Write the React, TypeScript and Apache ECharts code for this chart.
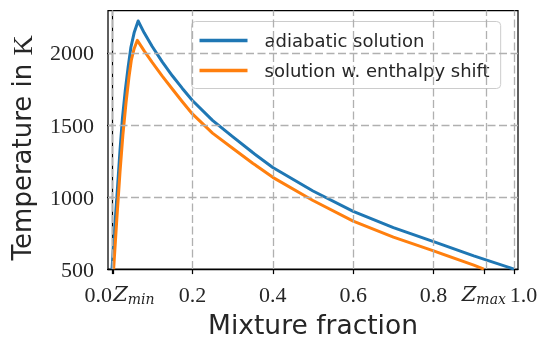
import React, { useEffect, useRef } from "react";
import * as echarts from "echarts";

// ---- data ----
const adiabaticX = [0.0, 0.007, 0.014, 0.02, 0.026, 0.033, 0.04, 0.047, 0.055, 0.065, 0.08, 0.1, 0.125, 0.15, 0.175, 0.2, 0.25, 0.3, 0.35, 0.4, 0.5, 0.6, 0.7, 0.8, 0.9, 1.0];
const adiabaticT = [500, 800, 1080, 1330, 1550, 1740, 1900, 2040, 2140, 2222, 2140, 2045, 1938, 1842, 1754, 1670, 1532, 1419, 1309, 1205, 1042, 901, 788, 691, 592, 500];
const shiftX = [0.004, 0.012, 0.02, 0.027, 0.035, 0.042, 0.048, 0.055, 0.063, 0.08, 0.1, 0.125, 0.15, 0.175, 0.2, 0.25, 0.3, 0.35, 0.4, 0.5, 0.6, 0.7, 0.8, 0.9, 0.925];
const shiftT = [500, 850, 1180, 1430, 1660, 1830, 1950, 2030, 2088, 2015, 1935, 1840, 1750, 1662, 1577, 1444, 1339, 1235, 1137, 976, 833, 722, 626, 528, 500];

const seriesNames = ["adiabatic solution", "solution w. enthalpy shift"];
const xTicks = [0, 0.003, 0.2, 0.4, 0.6, 0.8, 0.925, 1.0];
const xTickLabels = ["0.0", "{z|Z}{s|min}", "0.2", "0.4", "0.6", "0.8", "{z|Z}{s|max}", "{r|1.0}"];
const yTicks = [500, 1000, 1500, 2000];
const yTickLabels = ["500", "1000", "1500", "2000"];

const BLUE = "#1f77b4";
const ORANGE = "#ff7f0e";
const TXT = "#262626";
const SERIF = "Liberation Serif";
const X_MIN = -0.01;
const X_MAX = 1.01;

export default function App() {
  const ref = useRef<HTMLDivElement>(null);
  useEffect(() => {
    if (!ref.current) return;
    const chart = echarts.init(ref.current, undefined, { renderer: "svg" });
    const gridLine = { color: "#b0b0b0", width: 1.3, type: [8, 3.5] as any };
    const numStyle = { fontFamily: SERIF, fontSize: 22, color: TXT, lineHeight: 24 };
    const rich = {
      n: numStyle,
      r: { ...numStyle, padding: [0, 0, 0, 19] },
      z: { fontFamily: "DejaVu Serif", fontStyle: "italic", fontSize: 21, color: TXT, lineHeight: 24 },
      s: { fontFamily: "DejaVu Serif", fontStyle: "italic", fontSize: 14, color: TXT, lineHeight: 14, verticalAlign: "bottom" },
    };
    const fmt = (v: number) => {
      const i = xTicks.findIndex((t) => Math.abs(t - v) < 1e-9);
      return i >= 0 ? xTickLabels[i] : "";
    };
    // label groups by alignment (indices into xTicks)
    const groups: { idx: number[]; align: string }[] = [
      { idx: [2, 3, 4, 5, 6], align: "center" },
      { idx: [0], align: "right" },
      { idx: [1], align: "left" },
      { idx: [7], align: "center" },
    ];
    const xAxes = groups.map((g, k) => ({
      type: "value",
      gridIndex: 0,
      position: "bottom",
      offset: 0,
      min: X_MIN,
      max: X_MAX,
      ...(k === 0
        ? {
            name: "Mixture fraction",
            nameLocation: "middle",
            nameGap: 35,
            nameTextStyle: { fontFamily: "DejaVu Sans", fontSize: 26.5, color: TXT },
          }
        : {}),
      axisLine: { show: k === 0, onZero: false, lineStyle: { color: "#000", width: 1.25 } },
      axisTick: { show: k === 0, inside: false, length: 5, customValues: xTicks, lineStyle: { color: "#000", width: 1.25 } },
      axisLabel: {
        customValues: g.idx.map((i) => xTicks[i]),
        margin: 13,
        align: g.align,
        hideOverlap: false,
        showMinLabel: true,
        showMaxLabel: true,
        fontFamily: SERIF,
        fontSize: 22,
        color: TXT,
        lineHeight: 24,
        formatter: fmt,
        rich,
      },
      splitLine: { show: false },
    }));

    chart.setOption({
      animation: false,
      grid: { left: 106, right: 25, top: 10.5, bottom: 67, show: true, borderColor: "#000", borderWidth: 1.25, backgroundColor: "transparent" },
      legend: {
        orient: "vertical",
        left: 191.5,
        top: 21.5,
        padding: [10, 11, 9, 8],
        itemGap: 12,
        itemWidth: 48,
        itemHeight: 3.5,
        icon: "rect",
        backgroundColor: "rgba(255,255,255,0.8)",
        borderColor: "#cccccc",
        borderWidth: 1,
        borderRadius: 4,
        formatter: "{t|{name}}",
        textStyle: {
          rich: { t: { fontFamily: "DejaVu Sans", fontSize: 18, color: TXT, lineHeight: 18, padding: [0, 0, 0, 12] } },
        },
        data: seriesNames,
      },
      xAxis: xAxes,
      yAxis: {
        type: "value",
        min: 500,
        max: 2295,
        name: "{t|Temperature in }{k|K}",
        nameLocation: "middle",
        nameRotate: 90,
        nameGap: 72,
        nameTextStyle: {
          rich: {
            t: { fontFamily: "DejaVu Sans", fontSize: 26, color: TXT },
            k: { fontFamily: SERIF, fontSize: 28, color: TXT, padding: [0, 16, 0, 0] },
          },
        },
        axisLine: { show: true, lineStyle: { color: "#000", width: 1.25 } },
        axisTick: { show: true, inside: false, length: 5, customValues: yTicks, lineStyle: { color: "#000", width: 1.25 } },
        axisLabel: {
          customValues: yTicks,
          margin: 14,
          showMinLabel: true,
          fontFamily: SERIF,
          fontSize: 22,
          color: TXT,
          formatter: (v: number) => {
            const i = yTicks.indexOf(v);
            return i >= 0 ? yTickLabels[i] : "";
          },
        },
        splitLine: { show: false },
      },
      series: [
        {
          type: "line",
          name: "__grid",
          xAxisIndex: 0,
          data: [],
          z: 1,
          silent: true,
          markLine: {
            silent: true,
            symbol: "none",
            label: { show: false },
            lineStyle: gridLine,
            animation: false,
            data: [
              ...xTicks.map((v) => ({ xAxis: v })),
              ...yTicks.filter((v) => v > 500).map((v) => ({ yAxis: v })),
            ],
          },
        },
        {
          type: "line",
          name: seriesNames[0],
          xAxisIndex: 0,
          data: adiabaticX.map((x, i) => [x, adiabaticT[i]]),
          showSymbol: false,
          symbol: "none",
          z: 3,
          color: BLUE,
          lineStyle: { color: BLUE, width: 3, join: "round" },
        },
        {
          type: "line",
          name: seriesNames[1],
          xAxisIndex: 0,
          data: shiftX.map((x, i) => [x, shiftT[i]]),
          showSymbol: false,
          symbol: "none",
          z: 3,
          color: ORANGE,
          lineStyle: { color: ORANGE, width: 3, join: "round" },
        },
      ],
    });
    return () => chart.dispose();
  }, []);
  return <div ref={ref} style={{ position: "fixed", left: 0, top: 0, width: 543, height: 343 }} />;
}
